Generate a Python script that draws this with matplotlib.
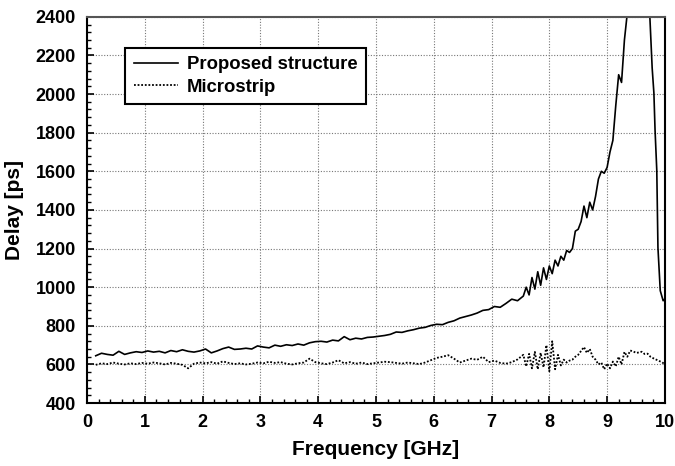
import matplotlib
matplotlib.use("Agg")
import matplotlib.pyplot as plt
from matplotlib.ticker import MultipleLocator

plt.rcParams['font.family'] = ['Liberation Sans', 'DejaVu Sans']
plt.rcParams['font.weight'] = 'bold'

# Proposed structure: frequency [GHz] and group delay [ps]
freq_prop = [0.15, 0.25, 0.35, 0.45, 0.55, 0.65, 0.75, 0.85, 0.95, 1.05,
             1.15, 1.25, 1.35, 1.45, 1.55, 1.65, 1.75, 1.85, 1.95, 2.05,
             2.15, 2.25, 2.35, 2.45, 2.55, 2.65, 2.75, 2.85, 2.95, 3.05,
             3.15, 3.25, 3.35, 3.45, 3.55, 3.65, 3.75, 3.85, 3.95, 4.05,
             4.15, 4.25, 4.35, 4.45, 4.55, 4.65, 4.75, 4.85, 4.95, 5.05,
             5.15, 5.25, 5.35, 5.45, 5.55, 5.65, 5.75, 5.85, 5.95, 6.05,
             6.15, 6.25, 6.35, 6.45, 6.55, 6.65, 6.75, 6.85, 6.95, 7.05,
             7.15, 7.25, 7.35, 7.45, 7.55,
             7.60, 7.65, 7.70, 7.75, 7.80, 7.85, 7.90, 7.95, 8.00, 8.05,
             8.10, 8.15, 8.20, 8.25, 8.30, 8.35, 8.40, 8.45, 8.50, 8.55,
             8.60, 8.65, 8.70, 8.75, 8.80, 8.85, 8.90, 8.95, 9.00, 9.05,
             9.10, 9.15, 9.20, 9.25, 9.30, 9.35, 9.40,
             9.50, 9.60, 9.70, 9.74, 9.78, 9.81, 9.83, 9.86, 9.88, 9.92,
             9.97, 10.0]
delay_prop = [645, 658, 652, 648, 668, 652, 660, 666, 662, 670,
              664, 668, 660, 672, 666, 676, 668, 664, 670, 680,
              660, 670, 682, 690, 678, 680, 684, 680, 696, 690,
              686, 700, 694, 702, 698, 706, 700, 712, 718, 720,
              716, 726, 722, 744, 728, 736, 732, 740, 742, 746,
              750, 756, 768, 766, 774, 780, 788, 792, 802, 808,
              806, 818, 826, 840, 848, 856, 866, 880, 884, 900,
              896, 916, 938, 930, 954,
              1000, 960, 1050, 990, 1080, 1010, 1100, 1040, 1110, 1070,
              1140, 1110, 1160, 1140, 1190, 1180, 1200, 1290, 1300, 1340,
              1420, 1360, 1440, 1400, 1470, 1560, 1600, 1590, 1620, 1700,
              1760, 1940, 2100, 2060, 2280, 2420, 2600,
              3000, 3200, 2700, 2400, 2135, 2005, 1813, 1605, 1205, 982,
              930, 940]

# Microstrip
freq_ms = [0.15, 0.25, 0.35, 0.45, 0.55, 0.65, 0.75, 0.85, 0.95, 1.05,
           1.15, 1.25, 1.35, 1.45, 1.55, 1.65, 1.75, 1.85, 1.95, 2.05,
           2.15, 2.25, 2.35, 2.45, 2.55, 2.65, 2.75, 2.85, 2.95, 3.05,
           3.15, 3.25, 3.35, 3.45, 3.55, 3.65, 3.75, 3.85, 3.95, 4.05,
           4.15, 4.25, 4.35, 4.45, 4.55, 4.65, 4.75, 4.85, 4.95, 5.05,
           5.15, 5.25, 5.35, 5.45, 5.55, 5.65, 5.75, 5.85, 5.95, 6.05,
           6.15, 6.25, 6.35, 6.45, 6.55, 6.65, 6.75, 6.85, 6.95, 7.05,
           7.15, 7.25, 7.35, 7.45, 7.55,
           7.60, 7.65, 7.70, 7.75, 7.80, 7.85, 7.90, 7.95, 8.00, 8.05,
           8.10, 8.15, 8.20, 8.25, 8.30, 8.35, 8.40, 8.45, 8.50, 8.55,
           8.60, 8.65, 8.70, 8.75, 8.80, 8.85, 8.90, 8.95, 9.00, 9.05,
           9.10, 9.15, 9.20, 9.25, 9.30, 9.35, 9.40, 9.45, 9.50, 9.55,
           9.60, 9.65, 9.70, 9.75, 9.80, 9.85, 9.90, 9.95, 10.0]
delay_ms = [598, 606, 602, 610, 604, 600, 606, 602, 608, 604,
            610, 606, 600, 608, 604, 598, 580, 604, 610, 606,
            612, 604, 616, 608, 602, 606, 600, 604, 610, 606,
            614, 608, 612, 604, 600, 606, 610, 630, 612, 606,
            602, 610, 622, 606, 612, 604, 610, 602, 606, 610,
            614, 612, 608, 604, 610, 606, 602, 610, 622, 634,
            640, 648, 630, 610, 620, 630, 624, 640, 612, 620,
            608, 604, 612, 626, 650,
            590, 655, 580, 665, 575, 660, 585, 700, 565, 720,
            575, 650, 595, 625, 610, 620, 625, 640, 650, 670,
            690, 660, 680, 640, 625, 600, 610, 575, 605, 580,
            615, 590, 640, 600, 665, 640, 672, 668, 660, 662,
            666, 654, 656, 640, 632, 625, 618, 612, 600]

fig = plt.figure(figsize=(6.75, 4.66), dpi=100)
ax = fig.add_axes([0.129, 0.135, 0.856, 0.829])

ax.plot(freq_prop, delay_prop, color='black', lw=1.2, label='Proposed structure')
ax.plot(freq_ms, delay_ms, color='black', lw=1.3, ls=(0, (1, 1)), label='Microstrip')

ax.set_xlim(0, 10)
ax.set_ylim(400, 2400)
ax.xaxis.set_major_locator(MultipleLocator(1))
ax.xaxis.set_minor_locator(MultipleLocator(0.2))
ax.yaxis.set_major_locator(MultipleLocator(200))
ax.yaxis.set_minor_locator(MultipleLocator(40))
ax.tick_params(which='both', direction='in', labelsize=13, colors='black')
ax.tick_params(which='major', length=5, width=1.2, pad=8)
ax.tick_params(which='minor', length=3, width=1)
ax.grid(True, which='major', color='#777777', ls=(0, (1, 1.5)), lw=0.8)

for s in ax.spines.values():
    s.set_linewidth(1.5)
ax.spines['top'].set_color('#555555')

ax.set_xlabel('Frequency [GHz]', fontsize=15, fontweight='bold', labelpad=6)
ax.set_ylabel('Delay [ps]', fontsize=15, fontweight='bold', labelpad=8)

leg = ax.legend(loc='upper left', bbox_to_anchor=(0.066, 0.92), borderaxespad=0,
                fancybox=False, framealpha=1, edgecolor='black', fontsize=13.3,
                handlelength=2.4, handletextpad=0.5, borderpad=0.45, labelspacing=0.3)
leg.get_frame().set_linewidth(1.5)
for t in leg.get_texts():
    t.set_fontweight('bold')

fig.savefig('out.png', dpi=100)
